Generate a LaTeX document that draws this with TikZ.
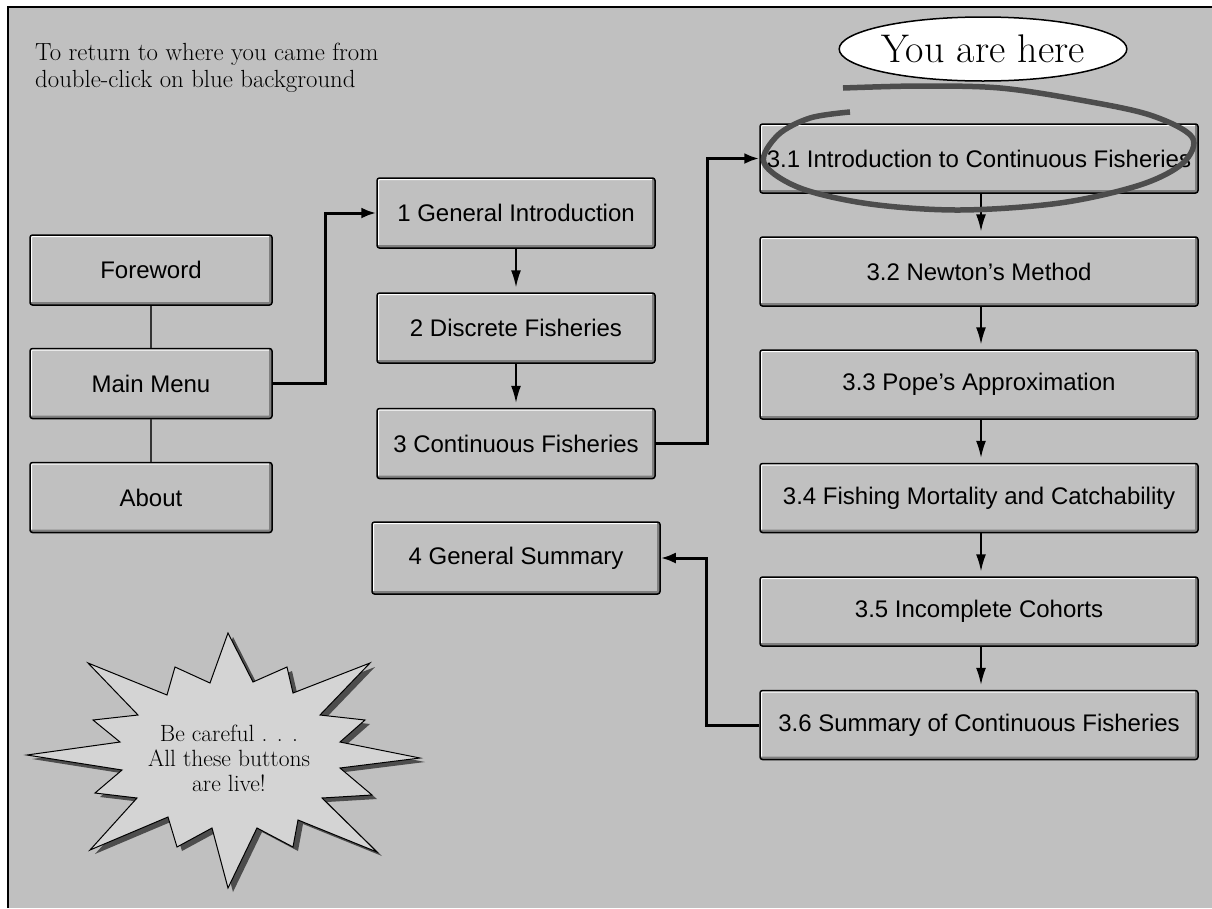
\documentclass[tikz,border=0pt]{standalone}
\usepackage{fontspec}
\setsansfont{Liberation Sans}
\usetikzlibrary{arrows.meta,shapes.geometric}
\definecolor{panel}{HTML}{C0C0C0}
\definecolor{bevel}{HTML}{808080}
\definecolor{scrawl}{HTML}{4D4D4D}
\definecolor{starfill}{HTML}{D4D4D4}
\begin{document}
\begin{tikzpicture}[x=1pt,y=-1pt,
	button/.style={draw, line width=1.5pt, fill=panel, rounded corners=2.5pt, minimum height=70pt, inner sep=0pt,
		font=\sffamily\fontsize{24}{28}\selectfont,
		path picture={
			\draw[white, line width=4pt] (path picture bounding box.south west) |- (path picture bounding box.north east);
			\draw[bevel, line width=6pt] (path picture bounding box.south west) -| (path picture bounding box.north east);
		}},
	flow/.style={line width=1.5pt, -{Latex[length=17pt,width=10pt]}, shorten >=5pt},
	link/.style={line width=3pt, -{Latex[length=15pt,width=11pt]}},
	tie/.style={line width=1.5pt, draw=black!80},
	burst/.style={insert path={(228,633) -- (253,682) -- (287,667) -- (293,693) -- (370,663) -- (320,715) -- (365,720) -- (340,742)
		-- (420,758) -- (340,768) -- (372,795) -- (322,798) -- (377,852) -- (298,820) -- (293,847) -- (257,828) -- (228,888)
		-- (212,828) -- (177,847) -- (168,817) -- (90,850) -- (137,798) -- (95,793) -- (122,770) -- (27,755) -- (120,742)
		-- (93,720) -- (138,715) -- (88,663) -- (167,695) -- (175,667) -- (210,683) -- cycle}}]
	\useasboundingbox (0,0) rectangle (1212,908);
	\fill[white] (0,0) rectangle (1212,908);
	\fill[panel] (8,7) rectangle (1212,908);
	\draw[line width=2.5pt] (8,908) -- (8,7) -- (1212,7);

	\node (note) [anchor=north west, inner sep=0pt, align=left, font=\fontsize{24.8}{27}\selectfont] at (35,43)
		{To return to where you came from\\double-click on blue background};

	% left column
	\node (fore) [button, minimum width=242pt] at (151,270) {Foreword};
	\node (mainm) [button, minimum width=242pt] at (151,383.5) {Main Menu};
	\node (about) [button, minimum width=242pt] at (151,497.5) {About};
	\draw[tie] (fore) -- (mainm);
	\draw[tie] (mainm) -- (about);

	% middle column
	\node (gen) [button, minimum width=278pt] at (516,213) {1 General Introduction};
	\node (disc) [button, minimum width=278pt] at (516,328) {2 Discrete Fisheries};
	\node (cont) [button, minimum width=278pt] at (516,443.5) {3 Continuous Fisheries};
	\node (summ) [button, minimum width=288pt, minimum height=72pt] at (516,558) {4 General Summary};
	\draw[flow] (gen.south) -- (disc.north);
	\draw[flow] (disc.south) -- (cont.north);

	% right column
	\node (r1) [button, minimum width=438pt, minimum height=69pt] at (979,158.5) {3.1 Introduction to Continuous Fisheries};
	\node (r2) [button, minimum width=438pt, minimum height=69pt] at (979,271.5) {3.2 Newton's Method};
	\node (r3) [button, minimum width=438pt, minimum height=69pt] at (979,384.5) {3.3 Pope's Approximation};
	\node (r4) [button, minimum width=438pt, minimum height=69pt] at (979,498) {3.4 Fishing Mortality and Catchability};
	\node (r5) [button, minimum width=438pt, minimum height=69pt] at (979,611.5) {3.5 Incomplete Cohorts};
	\node (r6) [button, minimum width=438pt, minimum height=69pt] at (979,725) {3.6 Summary of Continuous Fisheries};
	\foreach \a/\b in {r1/r2,r2/r3,r3/r4,r4/r5,r5/r6}
		\draw[flow] ([xshift=2pt]\a.south) -- ([xshift=2pt]\b.north);

	\draw[link] (mainm.east) -- ++(53,0) |- (gen.west);
	\draw[link] (cont.east) -- ++(52,0) |- (r1.west);
	\draw[link] (r6.west) -- ++(-53,0) |- (summ.east);

	% you are here
	\node (here) [ellipse, draw, line width=1.5pt, fill=white, minimum width=256pt, minimum height=64pt, inner sep=0pt,
		font=\fontsize{40}{42}\selectfont] at (983,49) {You are here};
	\draw[scrawl, line width=5.5pt] plot[smooth, tension=0.55] coordinates {(843,88) (920,86) (1000,88) (1080,100) (1150,115)
		(1192,137) (1183,163) (1140,185) (1060,203) (960,210) (870,204) (800,188) (764,163) (778,135) (810,118) (850,112)};

	% warning star
	\fill[scrawl, shift={(5,4)}, burst];
	\filldraw[fill=starfill, line width=1pt, burst];
	\node (warn) [align=center, font=\fontsize{23.5}{25}\selectfont] at (229,758) {Be careful . . .\\All these buttons\\are live!};
\end{tikzpicture}
\end{document}
